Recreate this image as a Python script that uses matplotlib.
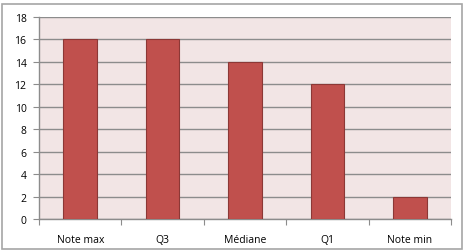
import matplotlib
matplotlib.use("Agg")
import matplotlib.pyplot as plt
from matplotlib.patches import Rectangle
import numpy as np

categories = ["Note max", "Q3", "Médiane", "Q1", "Note min"]
values = [16, 16, 14, 12, 2]
yticks = [0, 2, 4, 6, 8, 10, 12, 14, 16, 18]

W, H = 469, 251
fig = plt.figure(figsize=(W/100, H/100), dpi=100)
fig.patch.set_facecolor("white")
fig.patches.append(Rectangle((2/W, 1/H), 460/W, 245/H, transform=fig.transFigure,
                             fill=False, edgecolor="#a6a6a6", linewidth=1.2))

left, right, top, bottom = 39, 451, 18, 220
ax = fig.add_axes([left/W, 1-bottom/H, (right-left)/W, (bottom-top)/H])
ax.set_facecolor("#f2e5e5")
x = np.arange(len(categories))
ax.bar(x, values, width=0.41, color="#c0504d", edgecolor="#8c3836", linewidth=0.8, zorder=3)
ax.set_xlim(-0.5, len(categories)-0.5)
ax.set_ylim(0, 18)
ax.set_yticks(yticks)
ax.yaxis.grid(True, color="#8c8c8c", linewidth=1.0, zorder=0)
ax.set_axisbelow(True)
for s in ["top", "right"]:
    ax.spines[s].set_visible(False)
for s in ["left", "bottom"]:
    ax.spines[s].set_color("#8c8c8c")
    ax.spines[s].set_linewidth(1.0)
ax.set_xticks(np.arange(len(categories)+1) - 0.5, minor=False)
ax.set_xticklabels([])
ax.set_xticks(x, minor=True)
ax.set_xticklabels(categories, minor=True, fontsize=7.5, family="Open Sans")
ax.tick_params(axis="x", which="minor", length=0, pad=11)
ax.tick_params(axis="x", which="major", length=4, color="#8c8c8c")
ax.tick_params(axis="y", length=4, color="#8c8c8c", labelsize=7.5, pad=5)
for lab in ax.get_yticklabels():
    lab.set_family("Open Sans")
fig.savefig("out.png", dpi=100)
